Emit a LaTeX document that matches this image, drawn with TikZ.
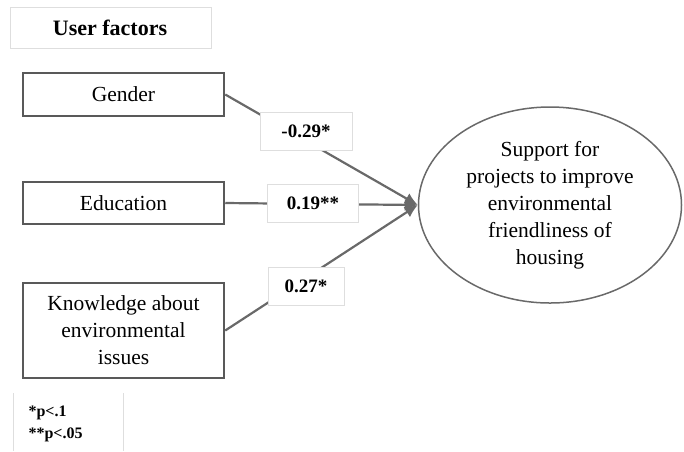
\documentclass[tikz,border=0pt]{standalone}
\usepackage{fontspec}
\setmainfont{Liberation Serif}
\usetikzlibrary{shapes.geometric}
\usetikzlibrary{arrows.meta}
\definecolor{boxgray}{RGB}{89,89,89}
\definecolor{linegray}{RGB}{105,105,105}
\definecolor{framegray}{RGB}{222,222,222}

\begin{document}
\begin{tikzpicture}[x=1pt, y=-1pt,
  factor/.style={draw=boxgray, line width=2.5pt, minimum width=201pt, inner sep=2pt, align=center, font=\fontsize{21.5}{27}\selectfont},
  coef/.style={fill=white, draw=framegray, line width=0.8pt, minimum height=38pt, font=\bfseries\fontsize{19}{22}\selectfont},
  path/.style={draw=linegray, line width=2.2pt, -{Latex[length=13pt,width=12pt]}}]

\useasboundingbox (0,0) rectangle (684,451);

% Heading
\draw[framegray, line width=0.8pt] (10,7) rectangle (211,48);
\node[font=\bfseries\fontsize{22}{26}\selectfont] (title) at (110,28) {User factors};

% Factors
\node[factor, minimum height=43pt] (gender) at (123.5,94.5) {Gender};
\node[factor, minimum height=42pt] (education) at (123.5,203) {Education};
\node[factor, minimum height=95pt] (knowledge) at (123.5,330.5) {Knowledge about\\environmental\\issues};

% Outcome
\node[ellipse, draw=linegray, line width=1.5pt, minimum width=263pt, minimum height=196pt, align=center,
  font=\fontsize{21.5}{27}\selectfont] (support) at (550,205)
  {Support for\\projects to improve\\environmental\\friendliness of\\housing};

% Paths
\draw[path] (gender.east) -- (support.west);
\draw[path] (education.east) -- (support.west);
\draw[path] (knowledge.east) -- (support.west);

% Coefficients
\node[coef, minimum width=92pt] (cgender) at (306,131) {-0.29*};
\node[coef, minimum width=91pt] (ceducation) at (313,203) {0.19**};
\node[coef, minimum width=76pt] (cknowledge) at (306,286) {0.27*};

% Significance note
\draw[framegray, line width=0.8pt] (13,393) -- (13,451);
\draw[framegray, line width=0.8pt] (123,393) -- (123,451);
\node[anchor=west, align=left, font=\bfseries\fontsize{16}{22}\selectfont] (note) at (25,424) {*p<.1\\**p<.05};

\end{tikzpicture}
\end{document}
